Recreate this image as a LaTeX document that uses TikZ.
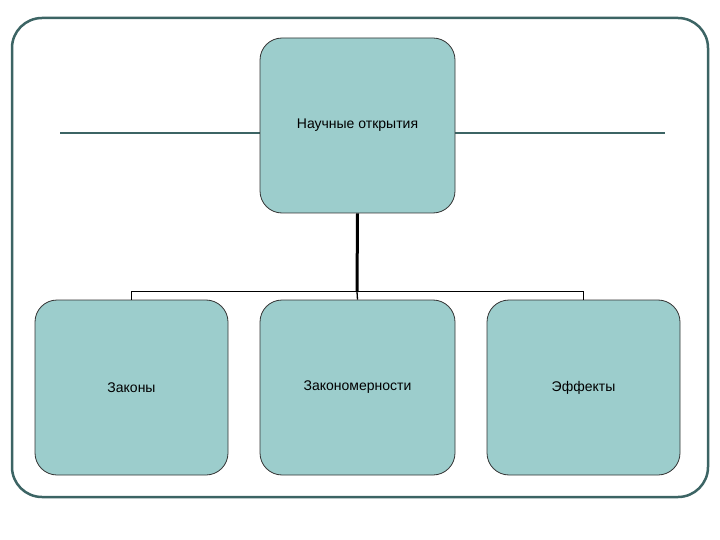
\documentclass[tikz,border=0pt]{standalone}
\usepackage{fontspec}
\setmainfont{Liberation Sans}
\begin{document}
\begin{tikzpicture}[x=1pt,y=-1pt,
  box/.style={draw=black!80,line width=0.8pt,fill=boxfill,rounded corners=22pt,minimum width=195pt,minimum height=175pt,font=\fontsize{14}{16}\selectfont},
  conn/.style={line width=1.3pt,black}]
\definecolor{boxfill}{RGB}{156,205,204}
\definecolor{frame}{RGB}{60,100,100}
\useasboundingbox (0,0) rectangle (720,540);
\draw[frame,line width=2.5pt,rounded corners=30pt] (12,18) rectangle (708,497);
\draw[frame,line width=2pt] (60,133) -- (262,133);
\draw[frame,line width=2pt] (455,133) -- (665,133);
\node[box] (top) at (357.5,125.5) {Научные открытия};
\node[box,minimum width=193pt] (a) at (131.5,387.5) {Законы};
\node[box] (b) at (357.5,387.5) {Закономерности};
\node[box,minimum width=193pt] (c) at (583.5,387.5) {Эффекты};
\coordinate (j) at (357,292);
\draw[line width=3pt] (top.south) -- (j);
\draw[conn] (a.north) -- ++(0,-8) -| (c.north);
\draw[conn] (b.north) -- (j);
\end{tikzpicture}
\end{document}
